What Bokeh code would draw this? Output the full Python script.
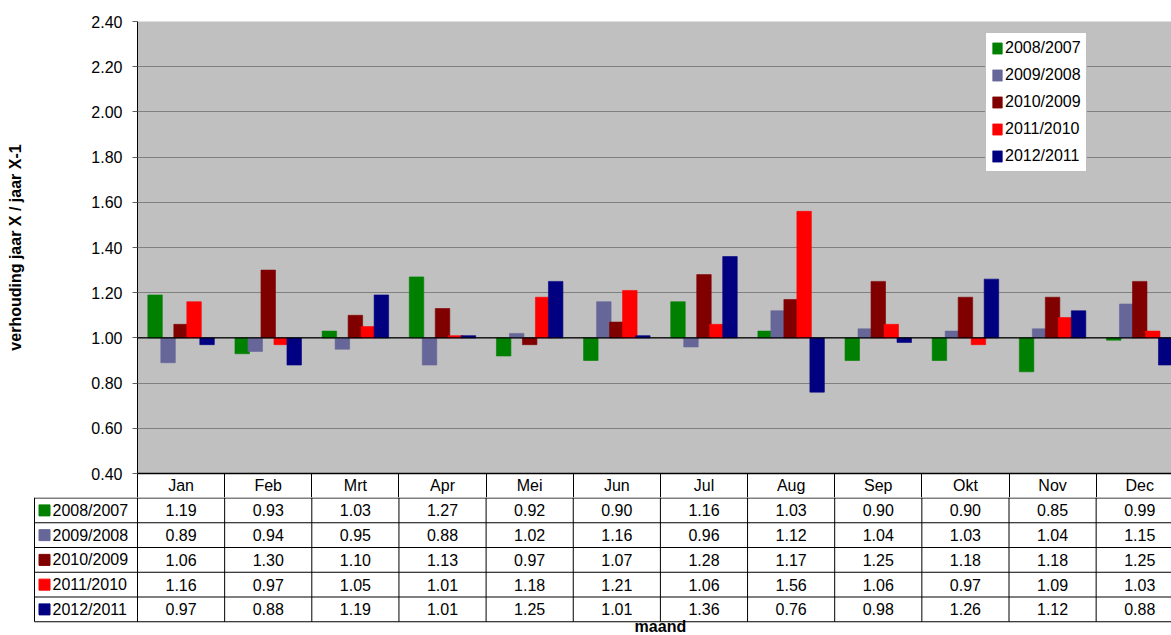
from bokeh.plotting import figure
from bokeh.models import (Range1d, FixedTicker, NumeralTickFormatter, Span,
                          Legend, LegendItem, ColumnDataSource)
from bokeh.layouts import column
from bokeh.transform import dodge
from bokeh.embed import file_html
from bokeh.resources import INLINE
from bokeh.core.properties import value

# ---- data -------------------------------------------------------------
months = ["Jan", "Feb", "Mrt", "Apr", "Mei", "Jun",
          "Jul", "Aug", "Sep", "Okt", "Nov", "Dec"]
series_names = ["2008/2007", "2009/2008", "2010/2009", "2011/2010", "2012/2011"]

r_2008_2007 = [1.19, 0.93, 1.03, 1.27, 0.92, 0.90, 1.16, 1.03, 0.90, 0.90, 0.85, 0.99]
r_2009_2008 = [0.89, 0.94, 0.95, 0.88, 1.02, 1.16, 0.96, 1.12, 1.04, 1.03, 1.04, 1.15]
r_2010_2009 = [1.06, 1.30, 1.10, 1.13, 0.97, 1.07, 1.28, 1.17, 1.25, 1.18, 1.18, 1.25]
r_2011_2010 = [1.16, 0.97, 1.05, 1.01, 1.18, 1.21, 1.06, 1.56, 1.06, 0.97, 1.09, 1.03]
r_2012_2011 = [0.97, 0.88, 1.19, 1.01, 1.25, 1.01, 1.36, 0.76, 0.98, 1.26, 1.12, 0.88]
series_values = [r_2008_2007, r_2009_2008, r_2010_2009, r_2011_2010, r_2012_2011]

colors = ["#008000", "#666699", "#800000", "#FF0000", "#000080"]
y_ticks = [0.40, 0.60, 0.80, 1.00, 1.20, 1.40, 1.60, 1.80, 2.00, 2.20, 2.40]
baseline = 1.00

# ---- layout constants ---------------------------------------------------
FONT = "Liberation Sans"
W, H = 1171, 635
LEFT = 137          # left edge of plot area / table body
TOP = 21
HEADER_H = 24       # month header row below the plot area
CHART_H = 473 + HEADER_H
TABLE_H = H - CHART_H
COL_PX = 87.15      # width of one month column
ROW_H = 24.75
LEGEND_COL_PX = 103
visible_cols = (W - LEFT) / COL_PX
STEP = 13 / COL_PX
BAR_W = 14.5 / COL_PX

pos = [i + 0.5 for i in range(len(months))]

# ---- chart --------------------------------------------------------------
chart = figure(width=W, height=CHART_H,
               x_range=Range1d(0, visible_cols), y_range=Range1d(0.4, 2.4),
               output_backend="svg", toolbar_location=None,
               min_border_left=LEFT, min_border_right=0,
               min_border_top=TOP, min_border_bottom=HEADER_H,
               background_fill_color="#C0C0C0", border_fill_color="white",
               outline_line_color=None)

chart.xgrid.visible = False
chart.ygrid.ticker = FixedTicker(ticks=y_ticks)
chart.ygrid.grid_line_color = "#808080"
chart.ygrid.grid_line_width = 1

yax = chart.yaxis[0]
yax.ticker = FixedTicker(ticks=y_ticks)
yax.formatter = NumeralTickFormatter(format="0.00")
yax.major_label_text_font = FONT
yax.major_label_text_font_size = "16px"
yax.major_label_text_color = "black"
yax.major_tick_out = 5
yax.major_tick_in = 0
yax.major_tick_line_color = "#606060"
yax.minor_tick_out = 0
yax.minor_tick_in = 0
yax.axis_line_color = "black"
yax.major_label_standoff = 10
yax.axis_label = "verhouding jaar X / jaar X-1"
yax.axis_label_text_font = FONT
yax.axis_label_text_font_size = "16px"
yax.axis_label_text_font_style = "bold"
yax.axis_label_text_color = "black"
yax.axis_label_standoff = 64

# month header row of the data table, with column separators as minor ticks
xax = chart.xaxis[0]
xax.ticker = FixedTicker(ticks=pos, minor_ticks=list(range(len(months) + 1)))
xax.major_label_overrides = {p: m for p, m in zip(pos, months)}
xax.major_label_text_font = FONT
xax.major_label_text_font_size = "16px"
xax.major_label_text_color = "black"
xax.major_tick_out = 0
xax.major_tick_in = 0
xax.minor_tick_out = HEADER_H
xax.minor_tick_in = 0
xax.minor_tick_line_color = "black"
xax.axis_line_color = "black"
xax.axis_line_width = 1.5
xax.major_label_standoff = 3 - HEADER_H

legend_items = []
for j, (name, vals, col) in enumerate(zip(series_names, series_values, colors)):
    src = ColumnDataSource(dict(pos=pos, top=vals))
    r = chart.vbar(x=dodge("pos", (j - 2) * STEP, range=chart.x_range),
                   width=BAR_W, bottom=baseline, top="top", source=src,
                   fill_color=col, line_color=col, line_alpha=0.6)
    legend_items.append(LegendItem(label=name, renderers=[r]))

chart.add_layout(Span(location=baseline, dimension="width",
                      line_color="black", line_width=1.2))

legend = Legend(items=legend_items, location=(848, 301),
                border_line_color="#808080", border_line_width=1,
                background_fill_color="white", background_fill_alpha=1.0,
                padding=5, margin=0, spacing=7,
                glyph_width=12, glyph_height=14, label_height=20,
                label_standoff=2, label_text_font=FONT,
                label_text_font_size="16px", label_text_color="black")
chart.add_layout(legend)

# ---- data table ---------------------------------------------------------
table = figure(width=W, height=TABLE_H,
               x_range=Range1d(-LEFT / COL_PX, visible_cols),
               y_range=Range1d(TABLE_H, 0),
               output_backend="svg", toolbar_location=None,
               x_axis_location=None, y_axis_location=None,
               min_border=0, min_border_left=0, min_border_right=0,
               outline_line_color=None,
               background_fill_color="white", border_fill_color="white")
table.xgrid.visible = False
table.ygrid.visible = False

# the table spans the full width, so its frame is not lined up with the chart's
for fig in (chart, table):
    if "frame_align" in fig.properties():
        fig.frame_align = False

n_rows = len(series_names)
legend_left = -LEGEND_COL_PX / COL_PX
line_ys = [0.5 + k * ROW_H for k in range(n_rows + 1)]
table.segment(x0=[legend_left] * len(line_ys), x1=[visible_cols] * len(line_ys),
              y0=line_ys, y1=line_ys, line_color="black", line_width=1)
vx = [legend_left] + list(range(len(months) + 1))
table.segment(x0=vx, x1=vx, y0=[0] * len(vx), y1=[line_ys[-1]] * len(vx),
              line_color="black", line_width=1)

row_centers = [0.5 + (k + 0.5) * ROW_H for k in range(n_rows)]
cell_x, cell_y, cell_t = [], [], []
for k, vals in enumerate(series_values):
    for i, v in enumerate(vals):
        cell_x.append(pos[i])
        cell_y.append(row_centers[k])
        cell_t.append(f"{v:.2f}")
table.text(x=cell_x, y=cell_y, text=cell_t, text_align="center",
           text_baseline="middle", text_font=value(FONT),
           text_font_size="16px", text_color="black")

key_x = legend_left + 10 / COL_PX
table.scatter(x=[key_x] * n_rows, y=row_centers, marker="square", size=11,
              fill_color=colors, line_color=colors)
table.text(x=[legend_left + 18 / COL_PX] * n_rows, y=row_centers,
           text=series_names, text_align="left", text_baseline="middle",
           text_font=value(FONT), text_font_size="16px", text_color="black")

table.text(x=[len(months) / 2], y=[TABLE_H - 9], text=["maand"],
           text_align="center", text_baseline="alphabetic",
           text_font=value(FONT), text_font_size="16px",
           text_font_style="bold", text_color="black")

layout = column(chart, table, spacing=0)
open("out.html", "w").write(file_html(layout, INLINE))
